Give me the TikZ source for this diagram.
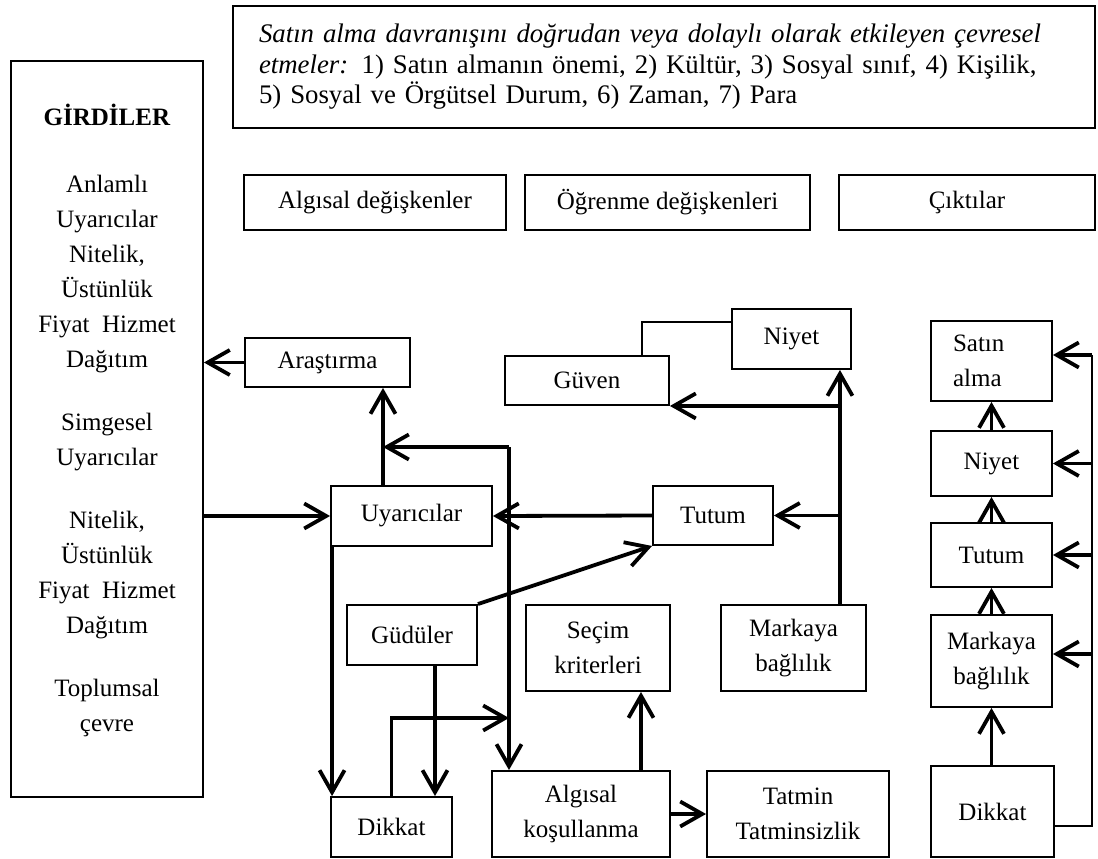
\documentclass[tikz,border=0pt]{standalone}
\usepackage{fontspec}
\setmainfont{Liberation Serif}
\usetikzlibrary{arrows.meta}
\begin{document}
\begin{tikzpicture}[x=1pt,y=-1pt,
  box/.style={draw, line width=1.9pt, inner sep=0pt, align=center,
    font=\fontsize{25}{34.5}\selectfont},
  conn/.style={line width=3.8pt, -{Straight Barb[length=22pt,width=25pt]}},
  thinline/.style={line width=1.5pt}]
\useasboundingbox (0,0) rectangle (1098,859);

% context box
\node[box, minimum width=862pt, minimum height=122pt, text width=810pt, inner xsep=26pt,
  align=left, font=\fontsize{26.8}{30.5}\selectfont] (env) at (664,67)
  {\textit{Satın alma davranışını doğrudan veya dolaylı olarak etkileyen çevresel}\\
   \textit{etmeler:} 1) Satın almanın önemi, 2) Kültür, 3) Sosyal sınıf, 4) Kişilik,\\
   5) Sosyal ve Örgütsel Durum, 6) Zaman, 7) Para};

% inputs
\node[box, minimum width=192pt, minimum height=736pt, font=\fontsize{25}{35}\selectfont] (gir) at (107,429)
  {\textbf{GİRDİLER}\\[32pt]
   Anlamlı\\ Uyarıcılar\\ Nitelik,\\ Üstünlük\\ Fiyat\ \ Hizmet\\ Dağıtım\\[28pt]
   Simgesel\\ Uyarıcılar\\[28pt]
   Nitelik,\\ Üstünlük\\ Fiyat\ \ Hizmet\\ Dağıtım\\[28pt]
   Toplumsal\\ çevre\\[-12pt]\mbox{}};

% column headings
\node[box, minimum width=262pt, minimum height=55pt] (hal) at (375,202.5) {Algısal değişkenler};
\node[box, minimum width=285pt, minimum height=55pt] (hog) at (667.5,202.5) {Öğrenme değişkenleri};
\node[box, minimum width=256pt, minimum height=55pt] (hck) at (967,202.5) {Çıktılar};

% perceptual and learning constructs
\node[box, minimum width=165pt, minimum height=49pt] (ara) at (327.5,362.5) {Araştırma};
\node[box, minimum width=161pt, minimum height=60pt] (uy) at (411.5,516) {Uyarıcılar};
\node[box, minimum width=120pt, minimum height=59pt] (tm) at (713,515.5) {Tutum};
\node[box, minimum width=119pt, minimum height=60pt] (nm) at (791.5,339) {Niyet};
\node[box, minimum width=164pt, minimum height=49pt] (gv) at (587,380.5) {Güven};
\node[box, minimum width=130pt, minimum height=60pt] (gd) at (412,635) {Güdüler};
\node[box, minimum width=144pt, minimum height=86pt] (sc) at (598,648) {Seçim\\kriterleri};
\node[box, minimum width=145pt, minimum height=86pt] (mm) at (793.5,648) {Markaya\\bağlılık};
\node[box, minimum width=121pt, minimum height=60pt] (dk) at (391.5,827) {Dikkat};
\node[box, minimum width=178pt, minimum height=86pt] (ak) at (581,814) {Algısal\\koşullanma};
\node[box, minimum width=182pt, minimum height=86pt] (tat) at (798,814) {Tatmin\\Tatminsizlik};

% outputs
\node[box, text width=77pt, inner xsep=22pt, align=left, minimum height=80pt] (sr) at (991.5,361) {Satın\\alma};
\node[box, minimum width=121pt, minimum height=65pt] (nr) at (991.5,463.5) {Niyet};
\node[box, minimum width=121pt, minimum height=64pt] (tr) at (991.5,555) {Tutum};
\node[box, minimum width=121pt, minimum height=92pt] (mr) at (991.5,661) {Markaya\\bağlılık};
\node[box, minimum width=123pt, minimum height=91pt] (dr) at (992.5,811.5) {Dikkat};

% junction points
\coordinate (jA) at (383,447);
\coordinate (jB) at (509,447);
\coordinate (jC) at (509,718);
\coordinate (fb) at (1092,355);

% inputs <-> stimuli
\draw[conn] (ara.west) -- (ara.west -| gir.east);
\draw[conn] (gir.east |- uy.west) -- (uy.west);
\draw[conn] (uy.north -| jA) -- (ara.south -| jA);
\draw[conn] (jB) -- (jA);
\draw[conn] (jB) -- (ak.north -| jB);
\draw[conn] (dk.north) |- (jC);
\draw[conn] (tm.west) -- (uy.east);

% brand loyalty feeds intention, trust and attitude
\draw[conn] ([xshift=-27pt]mm.north east) coordinate (mtop) -- (mtop |- nm.south);
\draw[conn] (mtop |- gv.south east) -- (gv.south east);
\draw[conn] (mtop |- tm.east) -- (tm.east);
\draw[thinline] ([xshift=-28pt]gv.north east) |- ([yshift=17pt]nm.west);

% motives, attention, conditioning
\draw[conn] (gd.north east) -- (tm.south west);
\draw[conn] ([xshift=23pt]gd.south) -- ([xshift=23pt]gd.south |- dk.north);
\draw[conn] ([xshift=2pt]uy.south west) -- ([xshift=2pt]dk.north west);
\draw[conn] ([xshift=60pt]ak.north) -- ([xshift=60pt]ak.north |- sc.south);
\draw[conn] (ak.east) -- (tat.west);

% output chain
\draw[conn] (dr.north -| mr.south) -- (mr.south);
\draw[conn] (mr.north) -- (tr.south);
\draw[conn] (tr.north) -- (nr.south);
\draw[conn] (nr.north) -- (sr.south);

% feedback from attention to every output
\coordinate (mrin) at ([yshift=7pt]mr.east);
\draw[thinline] ([yshift=-14.5pt]dr.east) -| (fb);
\draw[conn] (fb) -- (fb -| sr.east);
\draw[conn] (fb |- nr.east) -- (nr.east);
\draw[conn] (fb |- tr.east) -- (tr.east);
\draw[conn] (fb |- mrin) -- (mrin);
\end{tikzpicture}
\end{document}
